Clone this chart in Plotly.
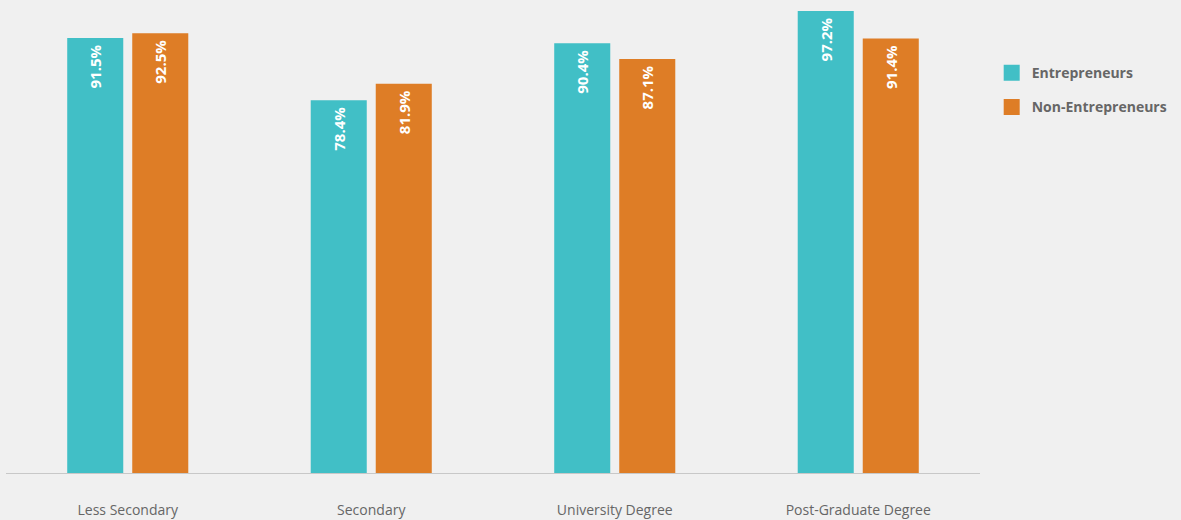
import plotly.graph_objects as go

# ---------- data ----------
categories = ["Less Secondary", "Secondary", "University Degree", "Post-Graduate Degree"]
entrepreneurs = [91.5, 78.4, 90.4, 97.2]
non_entrepreneurs = [92.5, 81.9, 87.1, 91.4]

series = [
    ("Entrepreneurs", entrepreneurs, "#41bfc6"),
    ("Non-Entrepreneurs", non_entrepreneurs, "#de7d26"),
]

FONT = "Open Sans, Noto Sans, sans-serif"

fig = go.Figure()
for name, vals, color in series:
    fig.add_trace(
        go.Bar(
            x=categories,
            y=vals,
            name=name,
            marker=dict(color=color, line=dict(width=0)),
            # trailing nbsp gives a little room below the bar top
            text=[f"{v:.1f}%\u00a0" for v in vals],
            textposition="inside",
            insidetextanchor="end",
            textangle=-90,
            textfont=dict(color="white", size=15, family=FONT, weight="bold"),
            showlegend=False,
            hoverinfo="skip",
        )
    )

# legend entries with bigger square swatches
for i, (name, vals, color) in enumerate(series):
    fig.add_trace(
        go.Scatter(
            x=[None],
            y=[None],
            mode="markers",
            name=name,
            legendgroup=f"g{i}",
            marker=dict(symbol="square", size=20, color=color),
        )
    )

fig.update_layout(
    width=1181,
    height=520,
    margin=dict(l=6, r=201, t=11, b=47, autoexpand=False),
    paper_bgcolor="#f0f0f0",
    plot_bgcolor="#f0f0f0",
    barmode="group",
    bargap=0.466,
    bargroupgap=0.138,
    font=dict(family=FONT, color="#666666"),
    showlegend=True,
    legend=dict(
        x=1.012,
        y=0.90,
        xanchor="left",
        yanchor="top",
        font=dict(size=14, color="#666666", weight="bold"),
        tracegroupgap=13,
        itemsizing="trace",
        bgcolor="rgba(0,0,0,0)",
    ),
    xaxis=dict(
        showline=True,
        linecolor="#c8c8c8",
        linewidth=1,
        showgrid=False,
        ticks="outside",
        ticklen=24,
        tickcolor="rgba(0,0,0,0)",
        tickfont=dict(size=14, color="#666666"),
        automargin=False,
        fixedrange=True,
    ),
    yaxis=dict(
        range=[0, 97.2],
        visible=False,
        showgrid=False,
        zeroline=False,
        fixedrange=True,
    ),
)

fig.write_html(
    "out.html",
    config={"displayModeBar": False},
    post_script="document.body.style.margin='0';",
)
